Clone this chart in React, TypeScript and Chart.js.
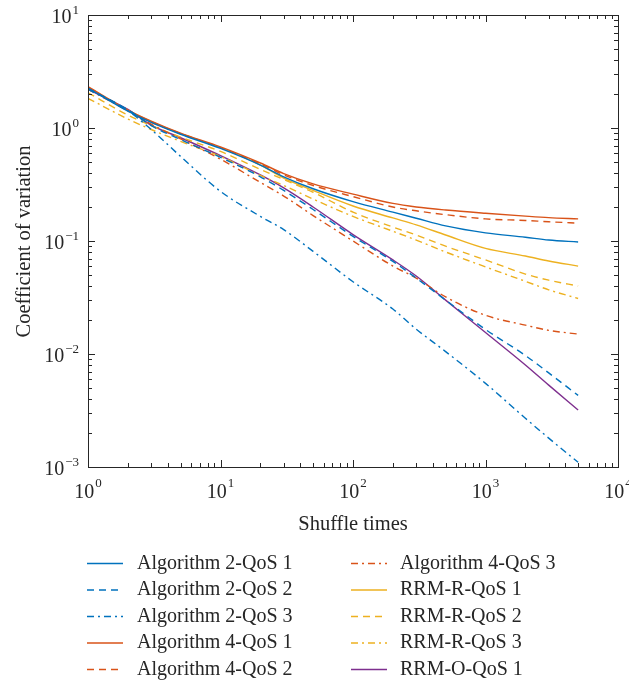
import React, { useEffect, useRef } from 'react';
import { Chart, registerables } from 'chart.js';

Chart.register(...registerables);

const shuffleTimes = [1, 2, 3, 5, 10, 20, 30, 50, 100, 200, 300, 500, 1000, 2000, 3000, 5000];

const alg2QoS1 = [2.26, 1.41, 1.12, 0.88, 0.66, 0.47, 0.37, 0.29, 0.223, 0.18, 0.159, 0.136, 0.118, 0.108, 0.102, 0.098];
const alg2QoS2 = [2.24, 1.45, 1.05, 0.79, 0.55, 0.37, 0.28, 0.19, 0.11, 0.066, 0.047, 0.03, 0.0165, 0.0097, 0.0068, 0.0043];
const alg2QoS3 = [2.2, 1.42, 0.97, 0.56, 0.275, 0.165, 0.126, 0.081, 0.0436, 0.025, 0.0166, 0.0105, 0.0055, 0.0027, 0.0018, 0.0011];
const alg4QoS1 = [2.32, 1.44, 1.15, 0.9, 0.68, 0.49, 0.395, 0.32, 0.26, 0.215, 0.2, 0.188, 0.176, 0.166, 0.161, 0.157];
const alg4QoS2 = [2.28, 1.42, 1.13, 0.89, 0.67, 0.48, 0.385, 0.31, 0.247, 0.2, 0.185, 0.171, 0.157, 0.152, 0.148, 0.144];
const alg4QoS3 = [2.2, 1.42, 1.08, 0.8, 0.53, 0.33, 0.25, 0.168, 0.1, 0.06, 0.047, 0.032, 0.022, 0.018, 0.0162, 0.015];
const rrmRQoS1 = [2.3, 1.43, 1.14, 0.89, 0.67, 0.47, 0.36, 0.28, 0.204, 0.16, 0.139, 0.113, 0.086, 0.0736, 0.0665, 0.06];
const rrmRQoS2 = [2.05, 1.3, 1.05, 0.83, 0.62, 0.43, 0.35, 0.27, 0.18, 0.133, 0.113, 0.09, 0.068, 0.051, 0.045, 0.04];
const rrmRQoS3 = [1.83, 1.2, 0.97, 0.76, 0.56, 0.38, 0.31, 0.235, 0.165, 0.122, 0.102, 0.08, 0.059, 0.044, 0.037, 0.031];
const rrmOQoS1 = [2.2, 1.46, 1.06, 0.82, 0.57, 0.384, 0.295, 0.2, 0.114, 0.068, 0.049, 0.03, 0.0155, 0.008, 0.0053, 0.0032];

const seriesLabels = [
  'Algorithm 2-QoS 1',
  'Algorithm 2-QoS 2',
  'Algorithm 2-QoS 3',
  'Algorithm 4-QoS 1',
  'Algorithm 4-QoS 2',
  'Algorithm 4-QoS 3',
  'RRM-R-QoS 1',
  'RRM-R-QoS 2',
  'RRM-R-QoS 3',
  'RRM-O-QoS 1',
];
const seriesValues = [alg2QoS1, alg2QoS2, alg2QoS3, alg4QoS1, alg4QoS2, alg4QoS3, rrmRQoS1, rrmRQoS2, rrmRQoS3, rrmOQoS1];

const xTickExponents = [0, 1, 2, 3, 4];
const yTickExponents = [-3, -2, -1, 0, 1];
const xAxisTitle = 'Shuffle times';
const yAxisTitle = 'Coefficient of variation';

const BLUE = '#0072BD';
const RED = '#D95319';
const YELLOW = '#EDB120';
const PURPLE = '#7E2F8E';
const SOLID: number[] = [];
const DASH = [7, 5];
const DASHDOT = [7, 4, 2, 4];
const seriesColors = [BLUE, BLUE, BLUE, RED, RED, RED, YELLOW, YELLOW, YELLOW, PURPLE];
const seriesDashes = [SOLID, DASH, DASHDOT, SOLID, DASH, DASHDOT, SOLID, DASH, DASHDOT, SOLID];

const FONT = '"Liberation Serif", "DejaVu Serif", serif';
const TEXT = '#262626';

const decorPlugin = {
  id: 'decor',
  afterDraw(chart: any) {
    const ctx: CanvasRenderingContext2D = chart.ctx;
    const { left, right, top, bottom } = chart.chartArea;
    const xs = chart.scales.x;
    const ys = chart.scales.y;
    ctx.save();
    ctx.strokeStyle = TEXT;
    ctx.lineWidth = 1;
    ctx.setLineDash([]);
    ctx.strokeRect(Math.round(left) + 0.5, Math.round(top) + 0.5, Math.round(right - left), Math.round(bottom - top));

    // tick marks (inward, on all four sides)
    ctx.beginPath();
    const xMinE = xTickExponents[0];
    const xMaxE = xTickExponents[xTickExponents.length - 1];
    for (let e = xMinE; e <= xMaxE; e++) {
      for (let m = 1; m <= 9; m++) {
        if (e === xMaxE && m > 1) break;
        const v = m * Math.pow(10, e);
        const px = Math.round(xs.getPixelForValue(v)) + 0.5;
        const len = m === 1 ? 7 : 4;
        ctx.moveTo(px, bottom);
        ctx.lineTo(px, bottom - len);
        ctx.moveTo(px, top);
        ctx.lineTo(px, top + len);
      }
    }
    const yMinE = yTickExponents[0];
    const yMaxE = yTickExponents[yTickExponents.length - 1];
    for (let e = yMinE; e <= yMaxE; e++) {
      for (let m = 1; m <= 9; m++) {
        if (e === yMaxE && m > 1) break;
        const v = m * Math.pow(10, e);
        const py = Math.round(ys.getPixelForValue(v)) + 0.5;
        const len = m === 1 ? 7 : 4;
        ctx.moveTo(left, py);
        ctx.lineTo(left + len, py);
        ctx.moveTo(right, py);
        ctx.lineTo(right - len, py);
      }
    }
    ctx.stroke();

    ctx.fillStyle = TEXT;
    ctx.textBaseline = 'alphabetic';
    ctx.textAlign = 'left';
    const baseFont = '20px ' + FONT;
    const expFont = '13px ' + FONT;
    const expText = (e: number) => (e < 0 ? '\u2212' + Math.abs(e) : String(e));

    // x tick labels
    xTickExponents.forEach((e) => {
      const px = xs.getPixelForValue(Math.pow(10, e));
      ctx.font = baseFont;
      const wb = ctx.measureText('10').width;
      ctx.font = expFont;
      const we = ctx.measureText(expText(e)).width;
      const start = px - (wb + we + 1) / 2;
      ctx.font = baseFont;
      ctx.fillText('10', start, 498);
      ctx.font = expFont;
      ctx.fillText(expText(e), start + wb + 1, 487);
    });

    // y tick labels
    yTickExponents.forEach((e) => {
      const py = ys.getPixelForValue(Math.pow(10, e));
      ctx.font = baseFont;
      const wb = ctx.measureText('10').width;
      ctx.font = expFont;
      const we = ctx.measureText(expText(e)).width;
      const end = left - 9;
      const start = end - we - wb - 1;
      ctx.font = baseFont;
      ctx.fillText('10', start, py + 8);
      ctx.font = expFont;
      ctx.fillText(expText(e), start + wb + 1, py - 1);
    });

    // axis titles
    ctx.font = '20.5px ' + FONT;
    ctx.textAlign = 'center';
    ctx.fillText(xAxisTitle, (left + right) / 2, 530);
    ctx.save();
    ctx.translate(30, (top + bottom) / 2 + 0.5);
    ctx.rotate(-Math.PI / 2);
    ctx.fillText(yAxisTitle, 0, 0);
    ctx.restore();

    // legend (two columns, column-major)
    const rowY0 = 563.5;
    const rowStep = 26.5;
    const cols = [
      { lineX: 87, textX: 137 },
      { lineX: 351, textX: 400 },
    ];
    ctx.font = '20px ' + FONT;
    ctx.textAlign = 'left';
    ctx.textBaseline = 'middle';
    chart.data.datasets.forEach((ds: any, i: number) => {
      const col = cols[Math.floor(i / 5)];
      const y = rowY0 + (i % 5) * rowStep;
      ctx.strokeStyle = ds.borderColor;
      ctx.lineWidth = 1.5;
      ctx.setLineDash(ds.borderDash || []);
      ctx.beginPath();
      ctx.moveTo(col.lineX, y);
      ctx.lineTo(col.lineX + 36, y);
      ctx.stroke();
      ctx.setLineDash([]);
      ctx.fillStyle = TEXT;
      ctx.fillText(ds.label, col.textX, y);
    });
    ctx.restore();
  },
};

export default function App() {
  const canvasRef = useRef<HTMLCanvasElement | null>(null);

  useEffect(() => {
    if (!canvasRef.current) return;
    const datasets = seriesLabels.map((label, i) => ({
      label,
      data: shuffleTimes.map((x, j) => ({ x, y: seriesValues[i][j] })),
      borderColor: seriesColors[i],
      backgroundColor: seriesColors[i],
      borderDash: seriesDashes[i],
      borderWidth: 1.4,
      pointRadius: 0,
      fill: false,
      cubicInterpolationMode: 'monotone' as const,
    }));
    const chart = new Chart(canvasRef.current, {
      type: 'line',
      data: { datasets },
      options: {
        animation: false,
        responsive: false,
        maintainAspectRatio: false,
        layout: { padding: { left: 0, right: 11, top: 15, bottom: 0 } },
        plugins: {
          legend: { display: false },
          tooltip: { enabled: false },
        },
        scales: {
          x: {
            type: 'logarithmic',
            min: 1,
            max: 10000,
            ticks: { display: false },
            grid: { display: false },
            border: { display: false },
            afterFit: (scale: any) => {
              scale.height = 215;
            },
          },
          y: {
            type: 'logarithmic',
            min: 0.001,
            max: 10,
            ticks: { display: false },
            grid: { display: false },
            border: { display: false },
            afterFit: (scale: any) => {
              scale.width = 88;
            },
          },
        },
      },
      plugins: [decorPlugin],
    });
    return () => chart.destroy();
  }, []);

  return (
    <div style={{ position: 'absolute', left: 0, top: 0, width: 629, height: 682, background: '#fff' }}>
      <canvas ref={canvasRef} width={629} height={682} style={{ width: 629, height: 682 }} />
    </div>
  );
}
